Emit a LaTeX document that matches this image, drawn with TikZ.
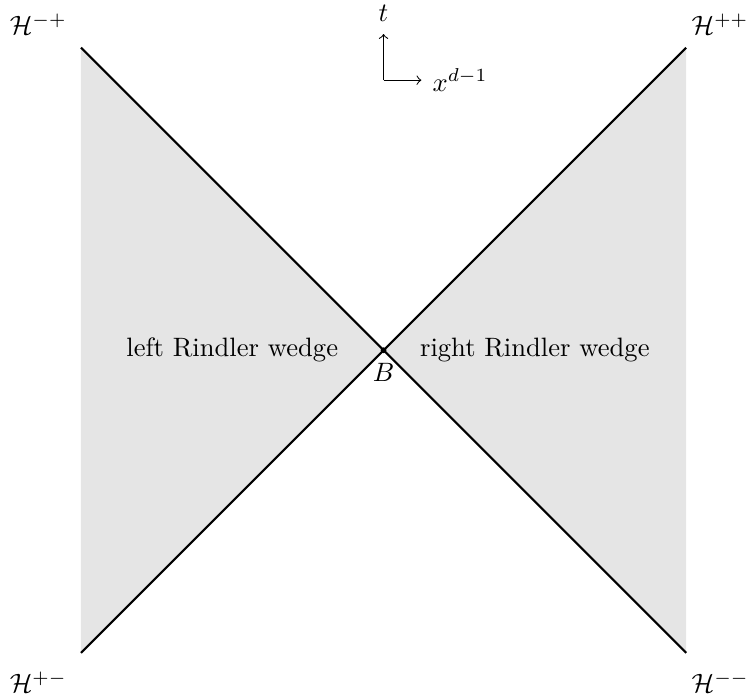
\documentclass[tikz,border=0pt]{standalone}
\usepackage{amsmath}
\usepackage{amssymb}
\usepackage{tikz}
\usetikzlibrary{positioning}

\begin{document}
\begin{tikzpicture}[wedge/.style={fill=gray!20},
  horizon/.style={thick},
  axis/.style={->}]
\useasboundingbox (-5.07,-4.57) rectangle (4.91,4.63);
\coordinate (B) at (0,0);
\coordinate (mp) at (-4,4);
\coordinate (pp) at (4,4);
\coordinate (pm) at (-4,-4);
\coordinate (mm) at (4,-4);
% the two wedges
\fill[wedge] (B) -- (mp) -- (pm) -- cycle;
\fill[wedge] (B) -- (pp) -- (mm) -- cycle;
\draw[horizon] (mp) -- (mm);
\draw[horizon] (pm) -- (pp);
\fill (B) circle (1.1pt);
\node[below=1.3pt of B] (lB) {$B$};
\node at (-2,0) (left) {left Rindler wedge};
\node at (2,0) (right) {right Rindler wedge};
% horizons
\node[above left=1.3pt and 1.8pt of mp] (Hmp) {$\mathcal{H}^{-+}$};
\node[above right=1.3pt and -1.5pt of pp] (Hpp) {$\mathcal{H}^{++}$};
\node[below left=3.5pt and 1.8pt of pm] (Hpm) {$\mathcal{H}^{+-}$};
\node[below right=3.5pt and -1.5pt of mm] (Hmm) {$\mathcal{H}^{--}$};
% axes
\coordinate (o) at (0,3.57);
\coordinate (ot) at (0,4.18);
\coordinate (ox) at (0.5,3.57);
\draw[axis] (o) -- (ot);
\draw[axis] (o) -- (ox);
\node[above=1.3pt of ot] (t) {$t$};
\node[right=0.7pt of ox] (x) {$x^{d-1}$};
\end{tikzpicture}
\end{document}
